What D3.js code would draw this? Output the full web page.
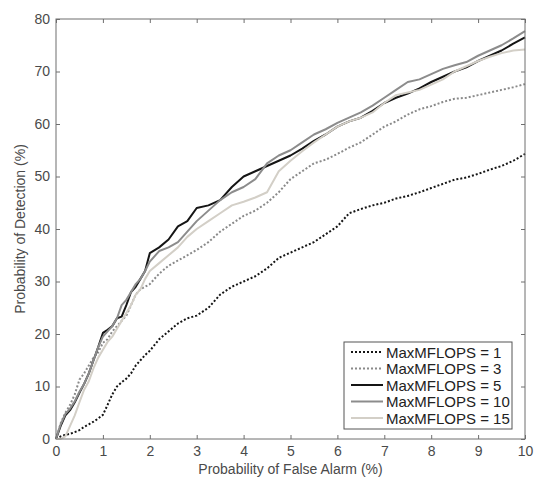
<!DOCTYPE html>
<html>
<head>
<meta charset="utf-8">
<script src="https://cdn.jsdelivr.net/npm/d3@7"></script>
<style>
  body { margin: 0; background: #fff; }
  text { font-family: "Liberation Sans", Arial, sans-serif; }
</style>
</head>
<body>
<svg id="chart" width="538" height="477"></svg>
<script>
// false alarm rate (%) sampled along each curve
const falseAlarm = [0, 0.1, 0.2, 0.3, 0.4, 0.5, 0.6, 0.7, 0.8, 0.9, 1.0, 1.1, 1.2, 1.3, 1.4, 1.5, 1.6, 1.7, 1.8, 1.9,
  2.0, 2.2, 2.4, 2.6, 2.8, 3.0, 3.25, 3.5, 3.75, 4.0, 4.25, 4.5, 4.75, 5.0, 5.25, 5.5, 5.75, 6.0, 6.25, 6.5,
  6.75, 7.0, 7.25, 7.5, 7.75, 8.0, 8.25, 8.5, 8.75, 9.0, 9.25, 9.5, 9.75, 10];

const seriesNames = ["MaxMFLOPS = 1", "MaxMFLOPS = 3", "MaxMFLOPS = 5", "MaxMFLOPS = 10", "MaxMFLOPS = 15"];

const detect1 = [0, 0.5, 0.8, 1.0, 1.3, 1.7, 2.3, 2.8, 3.3, 3.9, 4.6, 6.5, 8.5, 10.0, 10.8, 11.5, 12.5, 14.0, 15.0, 16.0,
  16.8, 19.0, 20.5, 22.0, 23.0, 23.5, 25.0, 27.5, 29.0, 30.0, 31.0, 32.5, 34.5, 35.5, 36.5, 37.5, 39.0, 40.5, 43.0, 43.8,
  44.5, 45.0, 45.8, 46.3, 47.0, 47.8, 48.6, 49.4, 49.8, 50.5, 51.3, 52.0, 53.0, 54.3];
const detect3 = [0, 3, 5, 6.5, 8.5, 11.3, 12.5, 14, 15.5, 16.5, 18.3, 19, 20.5, 21.5, 22.5, 23.5, 25.5, 27.5, 28.5, 29,
  29.5, 31.5, 33.0, 34.0, 35.0, 36.0, 37.5, 39.5, 41.0, 42.5, 43.5, 45.0, 47.0, 49.5, 51, 52.5, 53.2, 54.3, 55.5, 56.5,
  58.0, 59.5, 60.5, 61.8, 62.8, 63.4, 64.2, 64.8, 65.0, 65.5, 66.0, 66.5, 67.0, 67.6];
const detect5 = [0, 2.5, 4.5, 5.5, 7, 8.8, 10.5, 12.5, 15, 17.5, 20.2, 20.8, 21.5, 23, 23.3, 25.5, 28, 29, 30.5, 32,
  35.4, 36.5, 38, 40.5, 41.5, 44, 44.5, 45.5, 48, 50, 51, 52, 53, 54, 55.3, 56.8, 58, 59.5, 60.5, 61.2,
  62.5, 64, 65, 65.8, 66.8, 68, 69, 70, 70.8, 72, 73, 74, 75.3, 76.5];
const detect10 = [0, 2.8, 4.8, 5.8, 7.2, 9, 10.5, 12.5, 15, 17.5, 19.5, 20.5, 21.5, 23.0, 25.5, 26.5, 28, 29.5, 30.5, 32,
  33.8, 35.8, 36.5, 37.5, 39.5, 41.5, 43.5, 45.5, 47, 48, 49.5, 52.5, 54, 55, 56.5, 58, 59, 60.2, 61.2, 62.2,
  63.5, 65, 66.5, 68, 68.5, 69.5, 70.5, 71.2, 71.8, 73, 74, 75, 76.3, 77.7];
const detect15 = [0, 0, 0.5, 2.5, 4.5, 7, 9.4, 11, 13.5, 15.5, 17, 18.5, 19.5, 21, 22.5, 24, 25.5, 27.5, 28.5, 30.5,
  32, 33.5, 35, 36.5, 38.5, 40, 41.5, 43, 44.5, 45.2, 46, 47, 51, 53, 54.8, 56.5, 58, 59.5, 60.5, 61.2,
  62.2, 64, 65.5, 66, 66.5, 67.5, 68.5, 70, 71, 72, 72.8, 73.5, 74, 74.2];

const xTicks = [0, 1, 2, 3, 4, 5, 6, 7, 8, 9, 10];
const yTicks = [0, 10, 20, 30, 40, 50, 60, 70, 80];

// styles per series (order matches seriesNames)
const styles = [
  { color: "#151515", dash: "2,2", width: 2 },
  { color: "#8a8a8a", dash: "2,2", width: 2 },
  { color: "#151515", dash: null, width: 2 },
  { color: "#8c8c8c", dash: null, width: 2 },
  { color: "#d3cfc7", dash: null, width: 2 }
];

const allY = [detect1, detect3, detect5, detect10, detect15];

const svg = d3.select("#chart");
const margin = { left: 56, top: 19, right: 13, bottom: 38 };
const W = 538 - margin.left - margin.right;
const H = 477 - margin.top - margin.bottom;

const x = d3.scaleLinear().domain([0, 10]).range([0, W]);
const y = d3.scaleLinear().domain([0, 80]).range([H, 0]);

const g = svg.append("g").attr("transform", `translate(${margin.left},${margin.top})`);

const axisColor = "#6e6e6e";
const textColor = "#4a4a4a";

function styleAxis(sel, showLabels) {
  sel.select(".domain").remove();
  sel.selectAll(".tick line").attr("stroke", axisColor);
  sel.selectAll(".tick text")
    .attr("fill", textColor)
    .style("font-size", "14px")
    .style("display", showLabels ? null : "none");
}

// ticks pointing inward on all four sides
g.append("g").attr("transform", `translate(0,${H})`)
  .call(d3.axisBottom(x).tickValues(xTicks).tickSize(-4).tickPadding(7).tickFormat(d3.format("d")))
  .call(s => styleAxis(s, true));
g.append("g")
  .call(d3.axisTop(x).tickValues(xTicks).tickSize(-4).tickFormat(""))
  .call(s => styleAxis(s, false));
g.append("g")
  .call(d3.axisLeft(y).tickValues(yTicks).tickSize(-4).tickPadding(6).tickFormat(d3.format("d")))
  .call(s => styleAxis(s, true));
g.append("g").attr("transform", `translate(${W},0)`)
  .call(d3.axisRight(y).tickValues(yTicks).tickSize(-4).tickFormat(""))
  .call(s => styleAxis(s, false));

// curves
const line = d3.line()
  .x((d, i) => x(falseAlarm[i]))
  .y(d => y(d));

g.selectAll("path.curve")
  .data(allY)
  .join("path")
  .attr("class", "curve")
  .attr("fill", "none")
  .attr("stroke", (d, i) => styles[i].color)
  .attr("stroke-width", (d, i) => styles[i].width)
  .attr("stroke-dasharray", (d, i) => styles[i].dash)
  .attr("stroke-linejoin", "round")
  .attr("d", line);

// box
g.append("rect")
  .attr("x", 0).attr("y", 0).attr("width", W).attr("height", H)
  .attr("fill", "none").attr("stroke", axisColor).attr("stroke-width", 1);

// axis labels
svg.append("text")
  .attr("x", margin.left + W / 2)
  .attr("y", 474)
  .attr("text-anchor", "middle")
  .attr("fill", textColor)
  .style("font-size", "14px")
  .text("Probability of False Alarm (%)");

svg.append("text")
  .attr("transform", `translate(25,${margin.top + H / 2}) rotate(-90)`)
  .attr("text-anchor", "middle")
  .attr("fill", textColor)
  .style("font-size", "14px")
  .text("Probability of Detection (%)");

// legend
const legend = svg.append("g").attr("transform", "translate(344,342)");
legend.append("rect")
  .attr("width", 168).attr("height", 87)
  .attr("fill", "#fff").attr("stroke", "#555").attr("stroke-width", 1);

const li = legend.selectAll("g.item")
  .data(seriesNames)
  .join("g")
  .attr("class", "item")
  .attr("transform", (d, i) => `translate(0,${10 + i * 16.5})`);

li.append("line")
  .attr("x1", 7).attr("x2", 39)
  .attr("y1", 0).attr("y2", 0)
  .attr("stroke", (d, i) => styles[i].color)
  .attr("stroke-width", (d, i) => styles[i].width)
  .attr("stroke-dasharray", (d, i) => styles[i].dash);

li.append("text")
  .attr("x", 42).attr("y", 5.5)
  .attr("fill", "#222")
  .style("font-size", "15px")
  .text(d => d);
</script>
</body>
</html>
